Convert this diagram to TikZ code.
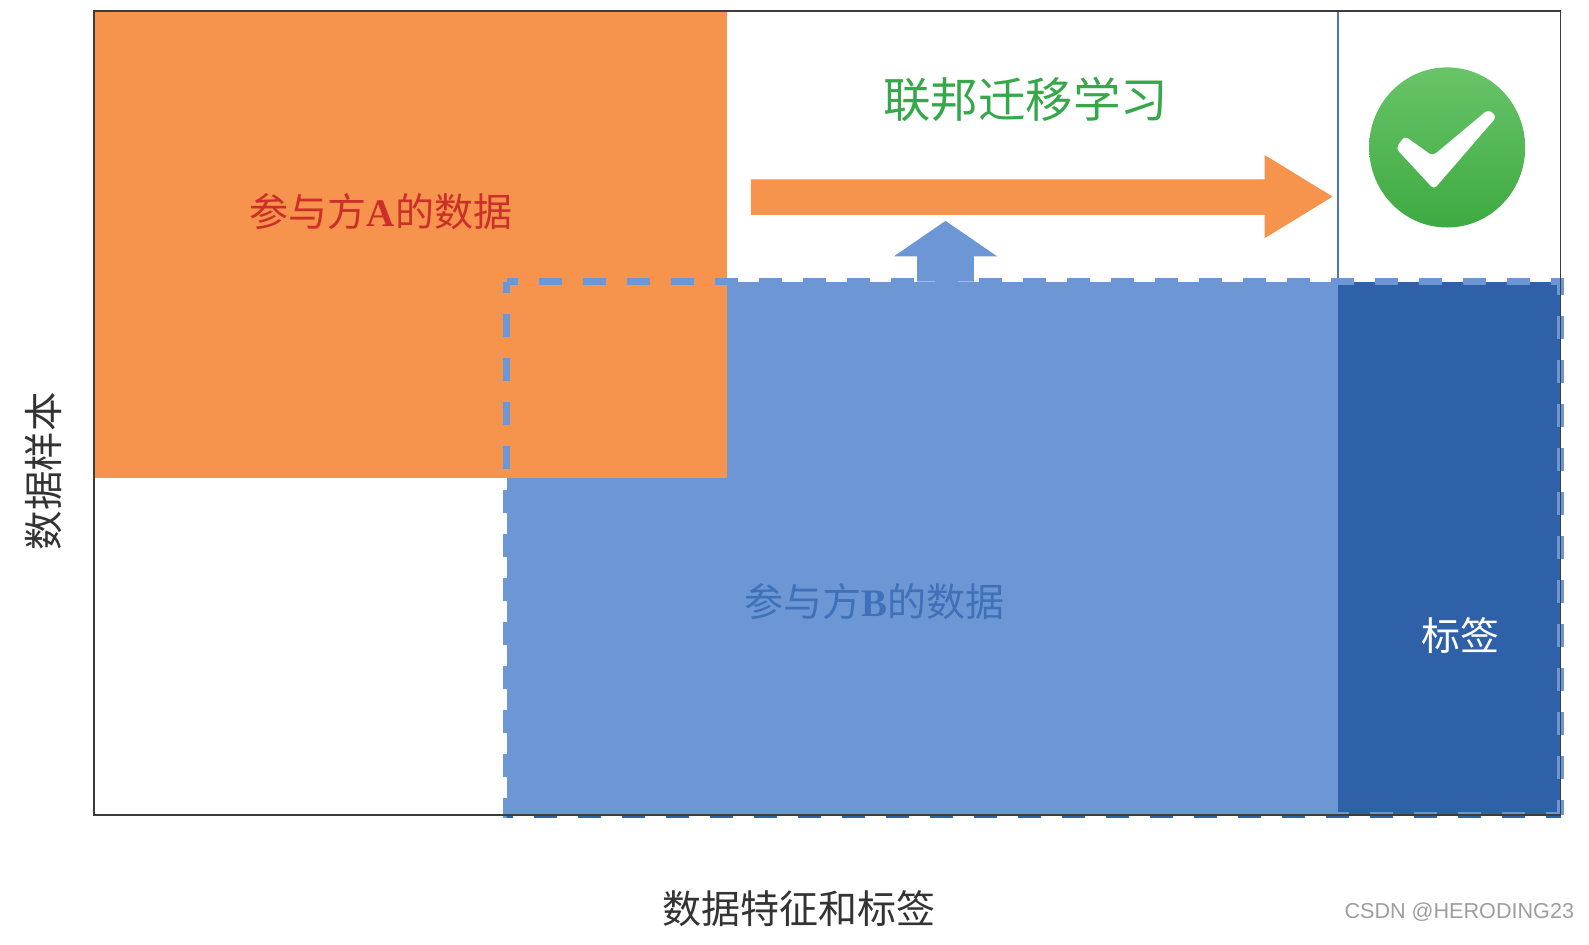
\documentclass[tikz,border=0pt]{standalone}
\usepackage{fontspec}
\setmainfont{Noto Sans CJK SC}
\newfontfamily\latinbold{Liberation Serif}[BoldFont={Liberation Serif Bold}]
\newfontfamily\markfont{Liberation Sans}
\definecolor{orangefill}{HTML}{F6934C}
\definecolor{bluefill}{HTML}{6C97D4}
\definecolor{darkfill}{HTML}{2F61A8}
\definecolor{framecol}{HTML}{3C3C3C}
\definecolor{greentext}{HTML}{35A84A}
\definecolor{redtext}{HTML}{CC2F2A}
\definecolor{bluetext}{HTML}{3F71B8}
\definecolor{checktop}{HTML}{68C468}
\definecolor{checkbot}{HTML}{3EAA42}
\definecolor{sepline}{HTML}{4A78B5}
\tikzset{
  lbl/.style={inner sep=0pt,outer sep=0pt},
  dashline/.style={draw=bluefill,line width=6.5pt,dash pattern=on 22.8pt off 21.2pt,dash phase=11.6pt},
}
\newcommand{\lat}[1]{{\latinbold\bfseries #1}}
\begin{document}
\begin{tikzpicture}[x=1.0134pt,y=-1.0134pt]
\useasboundingbox (0,0) rectangle (1568,932.5);
\fill[white] (0,0) rectangle (1568,932.5);
% data regions
\fill[orangefill] (93,11) rectangle (717,472);
\fill[bluefill] (717,278) rectangle (1320,804);
\fill[bluefill] (500,472) rectangle (717,804);
\fill[darkfill] (1320,278) rectangle (1540,804);
% arrows
\fill[orangefill] (741,177) -- (1248,177) -- (1248,153) -- (1315,194) -- (1248,235) -- (1248,212) -- (741,212) -- cycle;
\fill[bluefill] (905,278) -- (905,253) -- (882,253) -- (933,218) -- (984,253) -- (961,253) -- (961,278) -- cycle;
% separator
\draw[sepline,line width=1.8pt] (1320.5,11) -- (1320.5,278);
% dashed border
\draw[dashline] (500,278) -- (1540,278) -- (1540,804);
\draw[dashline] (500,278) -- (500,804) -- (1540,804);
\begin{scope}
  \clip (500,804) rectangle (1568,820);
  \draw[dashline,draw=darkfill] (500,278) -- (500,804) -- (1540,804);
\end{scope}
% frame
\draw[framecol,line width=1.6pt] (93,11) rectangle (1540,804);
% check mark
\shade[top color=checktop,bottom color=checkbot] (1428,145.5) ellipse[x radius=77,y radius=79];
\fill[white,rounded corners=4pt] (1386.1,134.2) -- (1413.7,153.9) -- (1468.7,107.9) -- (1476.9,115.1) -- (1415,186.8) -- (1377.5,146.4) -- cycle;
% labels
\node[lbl,text=greentext,font=\fontsize{47.5}{50}\selectfont] (title) at (1012,98) {联邦迁移学习};
\node[lbl,text=redtext,font=\fontsize{39}{44}\selectfont] (partyA) at (376,209) {参与方\lat{A}的数据};
\node[lbl,text=bluetext,font=\fontsize{39}{44}\selectfont] (partyB) at (863,594) {参与方\lat{B}的数据};
\node[lbl,text=white,font=\fontsize{39}{44}\selectfont] (tag) at (1441,627) {标签};
\node[lbl,text=black!80,font=\fontsize{39}{44}\selectfont] (xaxis) at (788,897) {数据特征和标签};
\node[lbl,text=black!80,font=\fontsize{39.5}{44}\selectfont,rotate=90] (yaxis) at (43,465) {数据样本};
\node[lbl,text=black!38,font=\markfont\fontsize{21.6}{26}\selectfont] (mark) at (1440,900) {CSDN @HERODING23};
\end{tikzpicture}
\end{document}
